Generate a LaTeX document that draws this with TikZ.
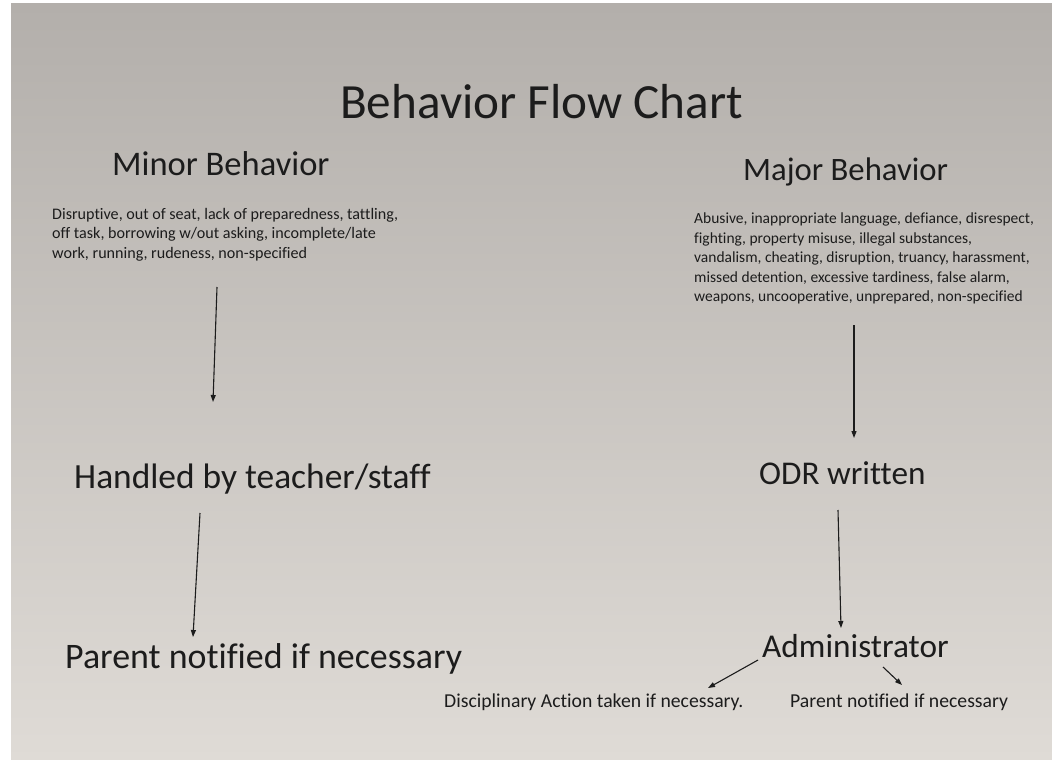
\documentclass[tikz,border=0pt]{standalone}
\usepackage{fontspec}
\setmainfont{Carlito}[Ligatures=NoCommon]
\usetikzlibrary{arrows.meta,calc}

\definecolor{paperTop}{HTML}{B3AFAB}
\definecolor{paperMid}{HTML}{DDDAD6}
\definecolor{paperBot}{HTML}{DFDBD6}
\definecolor{ink}{HTML}{1C1C1C}

\begin{document}
\begin{tikzpicture}[x=1pt,y=-1pt,
				big/.style={inner sep=0pt,anchor=base west,text=ink,font=\fontsize{35.4}{42}\selectfont},
				small/.style={inner sep=0pt,anchor=base west,text=ink,font=\fontsize{19.7}{24}\selectfont},
				desc/.style={inner sep=0pt,anchor=north west,align=left,text=ink,font=\fontsize{16.1}{19.5}\selectfont},
				arr/.style={-{Triangle[length=7pt,width=5pt]},line width=1.1pt,draw=ink}]
			\useasboundingbox (0,0) rectangle (1052,760);
			\fill[white] (0,0) rectangle (1052,760);
			\shade[top color=paperTop,middle color=paperMid,bottom color=paperBot] (11,4) rectangle (1052,760);
			% headings
			\node [big,font=\fontsize{49.2}{56}\selectfont] (title) at (340,118) {Behavior Flow Chart};
			\node [big,font=\fontsize{34.5}{40}\selectfont] (minor) at (112,175) {Minor Behavior};
			\node [big,font=\fontsize{32.7}{40}\selectfont] (major) at (743,180) {Major Behavior};
			% behaviour lists
			\node [desc] (minordesc) at (52,208) {Disruptive, out of seat, lack of preparedness, tattling,\\
				off task, borrowing w/out asking, incomplete/late\\
				work, running, rudeness, non-specified};
			\node [desc,font=\fontsize{15.5}{19.5}\selectfont] (majordesc) at (694,213) {Abusive, inappropriate language, defiance, disrespect,\\
				fighting, property misuse, illegal substances,\\
				vandalism, cheating, disruption, truancy, harassment,\\
				missed detention, excessive tardiness, false alarm,\\
				weapons, uncooperative, unprepared, non-specified};
			% steps
			\node [big] (handled) at (74,488) {Handled by teacher/staff};
			\node [big,font=\fontsize{35.9}{42}\selectfont] (parent) at (65,668) {Parent notified if necessary};
			\node [big,font=\fontsize{33.2}{40}\selectfont] (odr) at (759,484) {ODR written};
			\node [big,font=\fontsize{33.3}{40}\selectfont] (admin) at (762,657) {Administrator};
			\node [small] (action) at (444,707) {Disciplinary Action taken if necessary.};
			\node [small] (parentb) at (790,707) {Parent notified if necessary};
			% arrows
			\draw [arr] ($(minordesc.north west)+(165,79)$) -- ($(handled.base west)+(139,-86)$);
			\draw [arr] ($(handled.base west)+(126,25)$) -- ($(parent.base west)+(128,-31)$);
			\draw [arr] ($(majordesc.north west)+(160,112)$) -- ($(odr.base west)+(95,-46)$);
			\draw [arr] ($(odr.base west)+(79,26)$) -- ($(admin.base west)+(79,-29)$);
			\draw [arr] ($(admin.base west)+(-4,3)$) -- ($(action.base west)+(264,-19)$);
			\draw [arr] ($(admin.base west)+(121,10)$) -- ($(parentb.base west)+(112,-22)$);
		\end{tikzpicture}
\end{document}
